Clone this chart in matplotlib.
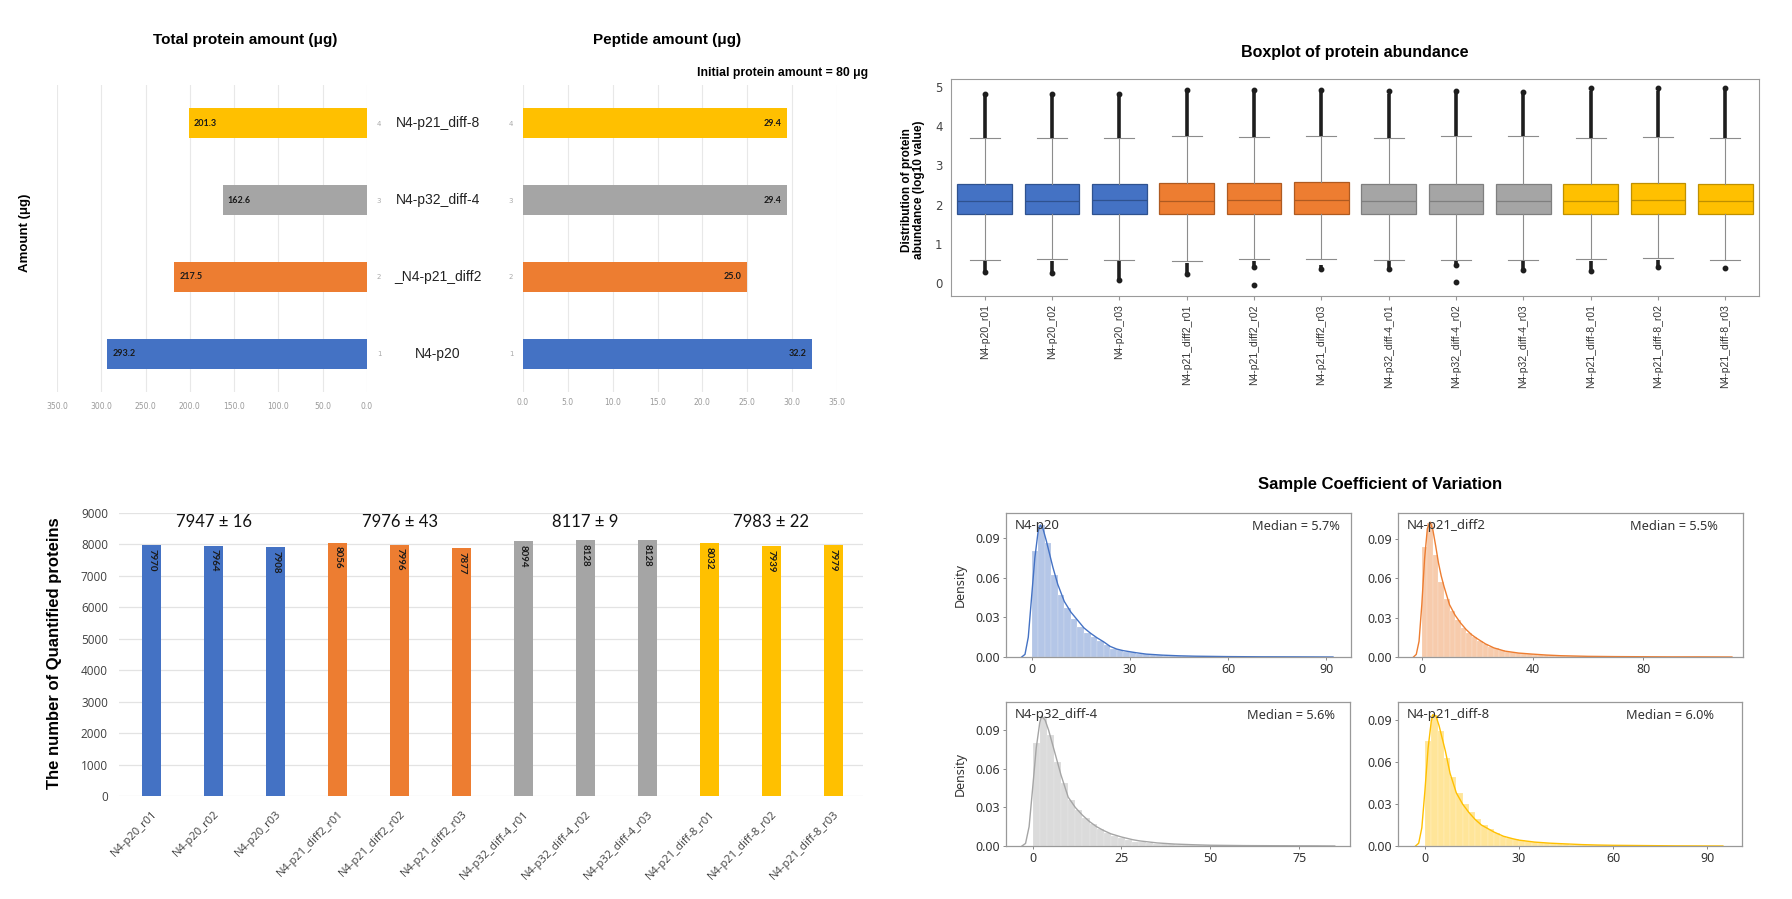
import numpy as np
import matplotlib
matplotlib.use('Agg')
import matplotlib.pyplot as plt

W, H = 1792, 899

# ---------------- data ----------------
groups = ['N4-p20', '_N4-p21_diff2', 'N4-p32_diff-4', 'N4-p21_diff-8']
group_colors = ['#4472C4', '#ED7D31', '#A5A5A5', '#FFC000']
group_dark = ['#2F528F', '#AE5A21', '#7F7F7F', '#BF9000']
total_protein = [293.2, 217.5, 162.6, 201.3]
peptide_amount = [32.2, 25.0, 29.4, 29.4]

samples = ['N4-p20_r01', 'N4-p20_r02', 'N4-p20_r03',
           'N4-p21_diff2_r01', 'N4-p21_diff2_r02', 'N4-p21_diff2_r03',
           'N4-p32_diff-4_r01', 'N4-p32_diff-4_r02', 'N4-p32_diff-4_r03',
           'N4-p21_diff-8_r01', 'N4-p21_diff-8_r02', 'N4-p21_diff-8_r03']
sample_group = [0, 0, 0, 1, 1, 1, 2, 2, 2, 3, 3, 3]
quantified = [7970, 7964, 7908, 8056, 7996, 7877, 8094, 8128, 8128, 8032, 7939, 7979]
group_summary = ['7947 \u00b1 16', '7976 \u00b1 43', '8117 \u00b1 9', '7983 \u00b1 22']
summary_y = 8700

# boxplot stats (log10 abundance)
box_q1 = [1.75, 1.75, 1.75, 1.75, 1.75, 1.77, 1.75, 1.75, 1.75, 1.76, 1.76, 1.76]
box_med = [2.09, 2.09, 2.12, 2.09, 2.12, 2.12, 2.09, 2.09, 2.08, 2.09, 2.12, 2.09]
box_q3 = [2.53, 2.53, 2.53, 2.55, 2.55, 2.57, 2.53, 2.53, 2.53, 2.53, 2.55, 2.53]
whis_hi = [3.70, 3.70, 3.70, 3.74, 3.72, 3.74, 3.70, 3.74, 3.74, 3.69, 3.72, 3.69]
whis_lo = [0.60, 0.62, 0.60, 0.55, 0.62, 0.62, 0.59, 0.58, 0.58, 0.62, 0.63, 0.59]
out_hi_max = [4.83, 4.82, 4.82, 4.92, 4.92, 4.92, 4.89, 4.90, 4.88, 4.96, 4.96, 4.98]
out_lo_top = [0.55, 0.57, 0.55, 0.52, 0.55, 0.45, 0.55, 0.55, 0.55, 0.57, 0.58, np.nan]
out_lo_min = [0.29, 0.25, 0.08, 0.23, 0.42, 0.37, 0.35, 0.45, 0.33, 0.30, 0.42, np.nan]
out_lo_single = [[], [], [], [], [-0.05], [], [], [0.02], [], [], [], [0.38]]

# CV density histograms (bin width 2, starting at 0) and kde curves
cv_names = ['N4-p20', 'N4-p21_diff2', 'N4-p32_diff-4', 'N4-p21_diff-8']
cv_median = [5.7, 5.5, 5.6, 6.0]
cv_bin_width = 2.0
cv_hist_p20 = [0.080, 0.100, 0.086, 0.062, 0.047, 0.037, 0.029, 0.023, 0.018, 0.015,
               0.012, 0.009, 0.006, 0.005, 0.004, 0.0035, 0.0025, 0.002, 0.0015, 0.0012,
               0.001, 0.0009, 0.0008, 0.0007, 0.0006, 0.0005, 0.0004, 0.0004, 0.0003, 0.0003,
               0.0002, 0.0002, 0.0002, 0.0001, 0.0001, 0.0001, 0.0001, 0.0001, 0.0001, 0.0001,
               0.0001, 0.0001, 0.0001, 0.0001, 0.0001, 0.0001]
cv_hist_diff2 = [0.084, 0.102, 0.078, 0.057, 0.044, 0.035, 0.028, 0.022, 0.018, 0.015,
                 0.012, 0.010, 0.008, 0.0065, 0.0052, 0.0042, 0.0035, 0.003, 0.0025, 0.0022,
                 0.0019, 0.0016, 0.0014, 0.0012, 0.001, 0.0009, 0.0008, 0.0007, 0.0006, 0.0005,
                 0.0004, 0.0004, 0.0003, 0.0003, 0.0003, 0.0002, 0.0002, 0.0002, 0.0002, 0.0001,
                 0.0001, 0.0001, 0.0001, 0.0001, 0.0001, 0.0001, 0.0001, 0.0001, 0.0001, 0.0001,
                 0.0001, 0.0001, 0.0001, 0.0001, 0.0001]
cv_hist_diff4 = [0.080, 0.100, 0.086, 0.065, 0.049, 0.036, 0.028, 0.022, 0.017, 0.013,
                 0.010, 0.008, 0.006, 0.0045, 0.0035, 0.0028, 0.0022, 0.0018, 0.0015, 0.0012,
                 0.001, 0.0008, 0.0007, 0.0006, 0.0005, 0.0004, 0.0003, 0.0003, 0.0002, 0.0002,
                 0.0002, 0.0001, 0.0001, 0.0001, 0.0001, 0.0001, 0.0001, 0.0001, 0.0001, 0.0001,
                 0.0001, 0.0001]
cv_hist_diff8 = [0.075, 0.094, 0.082, 0.063, 0.049, 0.038, 0.030, 0.024, 0.019, 0.015,
                 0.012, 0.0095, 0.0075, 0.006, 0.0048, 0.004, 0.0034, 0.0028, 0.0024, 0.002,
                 0.0017, 0.0014, 0.0012, 0.001, 0.0008, 0.0007, 0.0006, 0.0005, 0.0004, 0.0003,
                 0.0003, 0.0002, 0.0002, 0.0002, 0.0001, 0.0001, 0.0001, 0.0001, 0.0001, 0.0001,
                 0.0001, 0.0001, 0.0001, 0.0001, 0.0001, 0.0001, 0.0001]

kde_x_p20 = [-3, -2, -1, 0, 1, 2, 2.7, 3.5, 4.5, 5.5, 6.5, 8, 10, 12, 14, 16, 18, 20, 22, 24,
             26, 28, 30, 32, 35, 40, 45, 50, 60, 70, 80, 92]
kde_y_p20 = [0.0, 0.002, 0.015, 0.045, 0.075, 0.095, 0.100, 0.097, 0.088, 0.078, 0.068, 0.055,
             0.042, 0.034, 0.028, 0.022, 0.018, 0.0145, 0.0115, 0.008, 0.006, 0.0048, 0.0040,
             0.0032, 0.0022, 0.0014, 0.0009, 0.0006, 0.0003, 0.00015, 0.0001, 0.0]
kde_x_diff2 = [-3, -2, -1, 0, 1, 2, 3, 4, 5, 6, 7, 8, 10, 12, 14, 16, 18, 20, 23, 26, 30, 35,
               40, 45, 50, 60, 70, 80, 90, 100, 112]
kde_y_diff2 = [0.0, 0.002, 0.012, 0.040, 0.075, 0.098, 0.103, 0.097, 0.085, 0.072, 0.062, 0.054,
               0.040, 0.032, 0.026, 0.021, 0.017, 0.014, 0.010, 0.007, 0.0045, 0.0030, 0.0022,
               0.0015, 0.0010, 0.0005, 0.0003, 0.0002, 0.0001, 0.0001, 0.0]
kde_x_diff4 = [-3, -2, -1, 0, 1, 2, 2.5, 3.5, 4.5, 5.5, 6.5, 8, 10, 12, 14, 16, 18, 20, 22, 25,
               28, 30, 35, 40, 45, 50, 60, 70, 80, 85]
kde_y_diff4 = [0.0, 0.002, 0.015, 0.045, 0.076, 0.096, 0.101, 0.098, 0.090, 0.080, 0.070, 0.055,
               0.038, 0.030, 0.024, 0.019, 0.015, 0.012, 0.0095, 0.007, 0.005, 0.004, 0.0024,
               0.0015, 0.001, 0.0006, 0.0003, 0.0002, 0.0001, 0.0]
kde_x_diff8 = [-3, -2, -1, 0, 1, 2, 2.5, 3.5, 4.5, 5.5, 6.5, 8, 10, 12, 14, 16, 18, 20, 22, 25,
               28, 30, 35, 40, 45, 50, 55, 60, 70, 80, 95]
kde_y_diff8 = [0.0, 0.002, 0.013, 0.040, 0.070, 0.089, 0.094, 0.093, 0.086, 0.077, 0.068, 0.052,
               0.038, 0.030, 0.024, 0.019, 0.015, 0.0125, 0.010, 0.007, 0.0052, 0.0042, 0.0028,
               0.002, 0.0015, 0.001, 0.0007, 0.0005, 0.0003, 0.0001, 0.0]

cv_hists = [cv_hist_p20, cv_hist_diff2, cv_hist_diff4, cv_hist_diff8]
cv_kde_x = [kde_x_p20, kde_x_diff2, kde_x_diff4, kde_x_diff8]
cv_kde_y = [kde_y_p20, kde_y_diff2, kde_y_diff4, kde_y_diff8]
cv_xticks = [[0, 30, 60, 90], [0, 40, 80], [0, 25, 50, 75], [0, 30, 60, 90]]


fig = plt.figure(figsize=(W / 100, H / 100), dpi=100)
fig.patch.set_facecolor('white')


def add_ax(l, t, r, b):
    return fig.add_axes([l / W, 1 - b / H, (r - l) / W, (b - t) / H])


def clean(ax):
    for s in ax.spines.values():
        s.set_visible(False)
    ax.tick_params(length=0)


arial = 'Liberation Sans'
calibri = 'Lato'

# ---------------- total protein (mirrored) ----------------
ypos = [1, 2, 3, 4]
ax = add_ax(57, 85, 367, 392)
ax.barh(ypos, total_protein, height=0.39, color=group_colors, zorder=2)
ax.set_xlim(350, 0)
ax.set_ylim(0.5, 4.5)
ax.set_xticks(range(0, 351, 50))
ax.set_xticklabels([f'{v:.1f}' for v in range(0, 351, 50)], fontsize=5.5, color='#9a9a9a')
ax.xaxis.grid(True, color='#e8e8e8', lw=0.8)
ax.set_axisbelow(True)
ax.yaxis.tick_right()
ax.set_yticks(ypos)
ax.set_yticklabels([str(v) for v in ypos], fontsize=5, color='#aaaaaa')
clean(ax)
ax.tick_params(axis='x', pad=7)
ax.tick_params(axis='y', pad=7)
for yv, v in zip(ypos, total_protein):
    ax.annotate(f'{v:.1f}', (v, yv), xytext=(3.5, 0), textcoords='offset points',
                ha='left', va='center', fontsize=6.5, fontweight='bold', family=calibri,
                color='#1a1a1a')
    ax.annotate(groups[yv - 1], (1, yv), xycoords=('axes fraction', 'data'),
                xytext=(51, 0), textcoords='offset points', ha='center', va='center',
                fontsize=10, family=arial, color='#222222')
fig.text(245 / W, 1 - 40 / H, 'Total protein amount (\u03bcg)', ha='center', va='center',
         fontsize=11, fontweight='bold', family=arial)
fig.text(25 / W, 1 - 233 / H, 'Amount (\u03bcg)', ha='center', va='center', rotation=90,
         fontsize=9.5, fontweight='bold', family=arial)

# ---------------- peptide amount ----------------
ax = add_ax(523, 85, 837, 392)
ax.barh(ypos, peptide_amount, height=0.39, color=group_colors, zorder=2)
ax.set_xlim(0, 35)
ax.set_ylim(0.5, 4.5)
ax.set_xticks(range(0, 36, 5))
ax.set_xticklabels([f'{v:.1f}' for v in range(0, 36, 5)], fontsize=5.5, color='#9a9a9a')
ax.xaxis.grid(True, color='#e8e8e8', lw=0.8)
ax.set_axisbelow(True)
ax.set_yticks(ypos)
ax.set_yticklabels([str(v) for v in ypos], fontsize=5, color='#aaaaaa')
clean(ax)
ax.tick_params(axis='x', pad=4)
ax.tick_params(axis='y', pad=7)
for yv, v in zip(ypos, peptide_amount):
    ax.annotate(f'{v:.1f}', (v, yv), xytext=(-4, 0), textcoords='offset points',
                ha='right', va='center', fontsize=6.5, fontweight='bold', family=calibri,
                color='#1a1a1a')
fig.text(667 / W, 1 - 40 / H, 'Peptide amount (\u03bcg)', ha='center', va='center',
         fontsize=11, fontweight='bold', family=arial)
fig.text(868 / W, 1 - 73 / H, 'Initial protein amount = 80 \u03bcg', ha='right', va='center',
         fontsize=8.8, fontweight='bold', family=arial)

# ---------------- boxplot ----------------
ax = add_ax(951, 79, 1759, 296)
pos = list(range(len(samples)))
stats = [dict(med=m, q1=a, q3=b, whislo=lo, whishi=hi, label=s)
         for m, a, b, lo, hi, s in zip(box_med, box_q1, box_q3, whis_lo, whis_hi, samples)]
bp = ax.bxp(stats, positions=pos, widths=0.81, patch_artist=True, showfliers=False,
            capwidths=0.45,
            whiskerprops=dict(color='#8c8c8c', lw=0.8),
            capprops=dict(color='#8c8c8c', lw=0.8),
            medianprops=dict(lw=0.9))
for i, g in enumerate(sample_group):
    bp['boxes'][i].set_facecolor(group_colors[g])
    bp['boxes'][i].set_edgecolor(group_dark[g])
    bp['boxes'][i].set_linewidth(0.9)
    bp['medians'][i].set_color(group_dark[g])
ax.vlines(pos, whis_hi, [v - 0.06 for v in out_hi_max], color='#1e1e1e', lw=2.6, zorder=3)
ax.plot(pos, out_hi_max, 'o', color='#1e1e1e', ms=3.2, zorder=3)
ax.vlines(pos, out_lo_min, out_lo_top, color='#1e1e1e', lw=2.6, zorder=3)
ax.plot(pos, out_lo_min, 'o', color='#1e1e1e', ms=3.2, zorder=3)
for p, pts in zip(pos, out_lo_single):
    for v in pts:
        ax.plot(p, v, 'o', color='#1e1e1e', ms=3.2, zorder=3)
ax.set_xlim(-0.5, 11.5)
ax.set_ylim(-0.33, 5.2)
ax.set_yticks(range(0, 6))
ax.set_xticks(pos)
ax.set_xticklabels(samples, rotation=90, fontsize=7.5, color='#333333', family=arial)
ax.tick_params(axis='y', length=0, labelsize=8.5, labelcolor='#444444', pad=6)
ax.tick_params(axis='x', length=3, color='#999999', pad=3)
for s in ax.spines.values():
    s.set_color('#9a9a9a')
    s.set_linewidth(0.8)
fig.text(1355 / W, 1 - 52 / H, 'Boxplot of protein abundance', ha='center', va='center',
         fontsize=11.5, fontweight='bold', family=arial)
fig.text(913 / W, 1 - 190 / H, 'Distribution of protein\nabundance (log10 value)',
         ha='center', va='center', rotation=90, fontsize=8.5, fontweight='bold',
         family=arial, linespacing=1.0)

# ---------------- number of quantified proteins ----------------
ax = add_ax(119, 513, 863, 796)
bar_colors = [group_colors[g] for g in sample_group]
ax.bar(pos, quantified, width=0.31, color=bar_colors, zorder=2)
ax.set_xlim(-0.53, 11.48)
ax.set_ylim(0, 9000)
ax.set_yticks(range(0, 9001, 1000))
ax.yaxis.grid(True, color='#e3e3e3', lw=0.9)
ax.set_axisbelow(True)
clean(ax)
ax.set_xticks(pos)
ax.set_xticklabels(samples, rotation=45, ha='right', rotation_mode='anchor',
                   fontsize=8, color='#404040', family='Open Sans')
ax.tick_params(axis='x', pad=9)
ax.tick_params(axis='y', pad=8, labelsize=8.5, labelcolor='#404040')
for t in ax.get_yticklabels():
    t.set_family('Open Sans')
for p, v in zip(pos, quantified):
    ax.annotate(str(v), (p, v), xytext=(0, -2.5), textcoords='offset points',
                rotation=-90, ha='center', va='top', fontsize=7, fontweight='bold',
                family=calibri, color='#1a1a1a')
for g, txt in enumerate(group_summary):
    xs = [p for p, sg in zip(pos, sample_group) if sg == g]
    ax.text(np.mean(xs), summary_y, txt, ha='center', va='center', fontsize=12,
            family=calibri, color='#111111')
fig.text(55 / W, 1 - 653 / H, 'The number of Quantified proteins', ha='center', va='center',
         rotation=90, fontsize=12, fontweight='bold', family=arial)

# ---------------- sample CV ----------------
cv_rects = [(1006, 513, 1351, 657), (1398, 513, 1743, 657),
            (1006, 702, 1350, 846), (1398, 702, 1742, 846)]
cv_xlims = [(-7.8, 97.5), (-8.6, 116), (-7.5, 89.3), (-8.6, 101.1)]
cv_ylims = [(0, 0.109), (0, 0.110), (0, 0.112), (0, 0.103)]
cv_median_x = [0.968, 0.928, 0.956, 0.92]
cv_font = 'Noto Sans'
for k in range(4):
    ax = add_ax(*cv_rects[k])
    col = group_colors[k]
    dens = cv_hists[k]
    lefts = [i * cv_bin_width for i in range(len(dens))]
    ax.bar(lefts, dens, width=cv_bin_width, align='edge', color=col, alpha=0.4,
           edgecolor='white', linewidth=0.3)
    ax.plot(cv_kde_x[k], cv_kde_y[k], color=col, lw=1.0)
    ax.set_xlim(*cv_xlims[k])
    ax.set_ylim(*cv_ylims[k])
    ax.set_xticks(cv_xticks[k])
    ax.set_yticks([0, 0.03, 0.06, 0.09])
    ax.set_yticklabels(['0.00', '0.03', '0.06', '0.09'])
    ax.tick_params(length=2.5, width=0.6, color='#777777', labelsize=9,
                   labelcolor='#333333', pad=2)
    for t in ax.get_xticklabels() + ax.get_yticklabels():
        t.set_family(cv_font)
    for s in ax.spines.values():
        s.set_color('#999999')
        s.set_linewidth(0.9)
    ax.text(0.026, 0.91, cv_names[k], transform=ax.transAxes, ha='left', va='center',
            fontsize=9.5, family=cv_font, color='#333333')
    ax.text(cv_median_x[k], 0.905, f'Median = {cv_median[k]:.1f}%', transform=ax.transAxes,
            ha='right', va='center', fontsize=9.2, family=cv_font, color='#333333')
    if k in (0, 2):
        ax.set_ylabel('Density', fontsize=9, family=cv_font, color='#333333', labelpad=6)
fig.text(1380 / W, 1 - 485 / H, 'Sample Coefficient of Variation', ha='center', va='center',
         fontsize=12, fontweight='bold', family=arial)

fig.savefig('out.png', dpi=100, facecolor='white')
